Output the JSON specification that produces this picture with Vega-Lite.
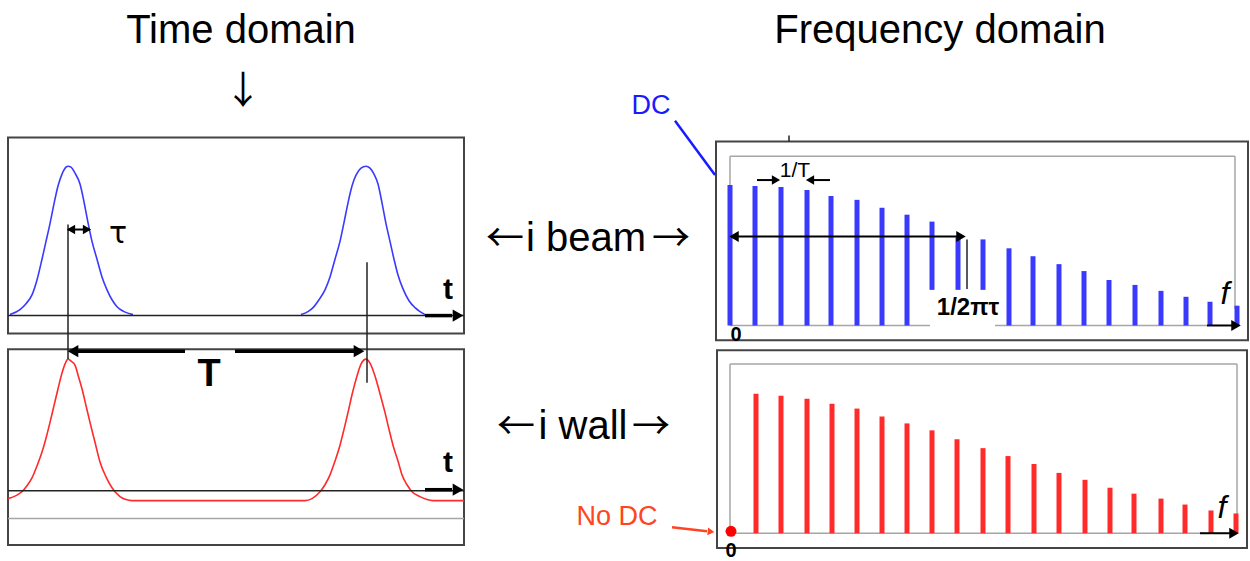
{
  "$schema": "https://vega.github.io/schema/vega-lite/v6.json",
  "width": 1250,
  "height": 561,
  "padding": 0,
  "autosize": {"type": "fit", "contains": "padding"},
  "background": "white",
  "config": {"view": {"stroke": null}, "axis": {"disable": true}},
  "datasets": {
    "boxes": [
      {"x": 8, "y": 139, "x2": 464, "y2": 337},
      {"x": 8, "y": 353, "x2": 464, "y2": 551},
      {"x": 716, "y": 143, "x2": 1248, "y2": 344},
      {"x": 717, "y": 354, "x2": 1247, "y2": 554}
    ],
    "grayLines": [
      {"x": 730, "y": 158, "x2": 1235, "y2": 158},
      {"x": 730, "y": 158, "x2": 730, "y2": 329},
      {"x": 1235, "y": 158, "x2": 1235, "y2": 312},
      {"x": 730, "y": 329, "x2": 930, "y2": 329},
      {"x": 995, "y": 329, "x2": 1207, "y2": 329},
      {"x": 730, "y": 368, "x2": 1237, "y2": 368},
      {"x": 730, "y": 368, "x2": 730, "y2": 539},
      {"x": 1237, "y": 368, "x2": 1237, "y2": 525},
      {"x": 730, "y": 539, "x2": 1205, "y2": 539},
      {"x": 8, "y": 524, "x2": 464, "y2": 524}
    ],
    "thinLines": [
      {"x": 8, "y": 319, "x2": 464, "y2": 319},
      {"x": 8, "y": 496, "x2": 464, "y2": 496},
      {"x": 68, "y": 227, "x2": 68, "y2": 363},
      {"x": 367, "y": 265, "x2": 367, "y2": 387},
      {"x": 967, "y": 242, "x2": 967, "y2": 292},
      {"x": 789, "y": 137, "x2": 789, "y2": 143}
    ],
    "thickArrows": [
      {"x": 425, "y": 319, "x2": 452, "y2": 319},
      {"x": 425, "y": 495, "x2": 452, "y2": 495},
      {"x": 76, "y": 355, "x2": 185, "y2": 355},
      {"x": 235, "y": 355, "x2": 356, "y2": 355}
    ],
    "midArrows": [
      {"x": 68, "y": 232, "x2": 90, "y2": 232},
      {"x": 735, "y": 239, "x2": 960, "y2": 239},
      {"x": 757, "y": 182, "x2": 773, "y2": 182},
      {"x": 813, "y": 182, "x2": 830, "y2": 182},
      {"x": 1207, "y": 329, "x2": 1232, "y2": 329},
      {"x": 1200, "y": 539, "x2": 1230, "y2": 539}
    ],
    "heads": [
      {"x": 458, "y": 319, "dir": "right", "kind": "big"},
      {"x": 458, "y": 495, "dir": "right", "kind": "big"},
      {"x": 73, "y": 355, "dir": "left", "kind": "big"},
      {"x": 359, "y": 355, "dir": "right", "kind": "big"},
      {"x": 734, "y": 239, "dir": "left", "kind": "mid"},
      {"x": 961, "y": 239, "dir": "right", "kind": "mid"},
      {"x": 1236, "y": 329, "dir": "right", "kind": "mid"},
      {"x": 1234, "y": 539, "dir": "right", "kind": "mid"},
      {"x": 71, "y": 232, "dir": "left", "kind": "tiny"},
      {"x": 87, "y": 232, "dir": "right", "kind": "tiny"},
      {"x": 776, "y": 182, "dir": "right", "kind": "tiny"},
      {"x": 810, "y": 182, "dir": "left", "kind": "tiny"}
    ],
    "curves": [
      {"series": "beam1", "signal": "beam", "x": 10, "y": 318},
      {"series": "beam1", "signal": "beam", "x": 20, "y": 313},
      {"series": "beam1", "signal": "beam", "x": 26, "y": 307},
      {"series": "beam1", "signal": "beam", "x": 32, "y": 298},
      {"series": "beam1", "signal": "beam", "x": 37, "y": 283},
      {"series": "beam1", "signal": "beam", "x": 42, "y": 262},
      {"series": "beam1", "signal": "beam", "x": 46, "y": 244},
      {"series": "beam1", "signal": "beam", "x": 50, "y": 226},
      {"series": "beam1", "signal": "beam", "x": 54, "y": 206},
      {"series": "beam1", "signal": "beam", "x": 58, "y": 188},
      {"series": "beam1", "signal": "beam", "x": 62, "y": 176},
      {"series": "beam1", "signal": "beam", "x": 66, "y": 169},
      {"series": "beam1", "signal": "beam", "x": 68, "y": 168},
      {"series": "beam1", "signal": "beam", "x": 71, "y": 169},
      {"series": "beam1", "signal": "beam", "x": 75, "y": 175},
      {"series": "beam1", "signal": "beam", "x": 80, "y": 186},
      {"series": "beam1", "signal": "beam", "x": 84, "y": 204},
      {"series": "beam1", "signal": "beam", "x": 88, "y": 225},
      {"series": "beam1", "signal": "beam", "x": 92, "y": 244},
      {"series": "beam1", "signal": "beam", "x": 97, "y": 262},
      {"series": "beam1", "signal": "beam", "x": 102, "y": 280},
      {"series": "beam1", "signal": "beam", "x": 107, "y": 293},
      {"series": "beam1", "signal": "beam", "x": 112, "y": 303},
      {"series": "beam1", "signal": "beam", "x": 117, "y": 310},
      {"series": "beam1", "signal": "beam", "x": 124, "y": 315},
      {"series": "beam1", "signal": "beam", "x": 133, "y": 318},
      {"series": "beam2", "signal": "beam", "x": 301, "y": 318},
      {"series": "beam2", "signal": "beam", "x": 308, "y": 315},
      {"series": "beam2", "signal": "beam", "x": 313, "y": 311},
      {"series": "beam2", "signal": "beam", "x": 319, "y": 303},
      {"series": "beam2", "signal": "beam", "x": 325, "y": 293},
      {"series": "beam2", "signal": "beam", "x": 330, "y": 280},
      {"series": "beam2", "signal": "beam", "x": 335, "y": 262},
      {"series": "beam2", "signal": "beam", "x": 340, "y": 244},
      {"series": "beam2", "signal": "beam", "x": 344, "y": 225},
      {"series": "beam2", "signal": "beam", "x": 348, "y": 205},
      {"series": "beam2", "signal": "beam", "x": 352, "y": 188},
      {"series": "beam2", "signal": "beam", "x": 356, "y": 177},
      {"series": "beam2", "signal": "beam", "x": 361, "y": 170},
      {"series": "beam2", "signal": "beam", "x": 366, "y": 168},
      {"series": "beam2", "signal": "beam", "x": 370, "y": 170},
      {"series": "beam2", "signal": "beam", "x": 374, "y": 176},
      {"series": "beam2", "signal": "beam", "x": 378, "y": 186},
      {"series": "beam2", "signal": "beam", "x": 382, "y": 205},
      {"series": "beam2", "signal": "beam", "x": 386, "y": 226},
      {"series": "beam2", "signal": "beam", "x": 390, "y": 244},
      {"series": "beam2", "signal": "beam", "x": 394, "y": 262},
      {"series": "beam2", "signal": "beam", "x": 398, "y": 278},
      {"series": "beam2", "signal": "beam", "x": 403, "y": 292},
      {"series": "beam2", "signal": "beam", "x": 409, "y": 304},
      {"series": "beam2", "signal": "beam", "x": 415, "y": 311},
      {"series": "beam2", "signal": "beam", "x": 420, "y": 315},
      {"series": "beam2", "signal": "beam", "x": 425, "y": 318},
      {"series": "wall", "signal": "wall", "x": 8, "y": 504},
      {"series": "wall", "signal": "wall", "x": 16, "y": 501},
      {"series": "wall", "signal": "wall", "x": 22, "y": 497},
      {"series": "wall", "signal": "wall", "x": 27, "y": 491},
      {"series": "wall", "signal": "wall", "x": 32, "y": 483},
      {"series": "wall", "signal": "wall", "x": 37, "y": 471},
      {"series": "wall", "signal": "wall", "x": 42, "y": 457},
      {"series": "wall", "signal": "wall", "x": 46, "y": 443},
      {"series": "wall", "signal": "wall", "x": 50, "y": 427},
      {"series": "wall", "signal": "wall", "x": 54, "y": 410},
      {"series": "wall", "signal": "wall", "x": 58, "y": 393},
      {"series": "wall", "signal": "wall", "x": 62, "y": 377},
      {"series": "wall", "signal": "wall", "x": 65, "y": 368},
      {"series": "wall", "signal": "wall", "x": 68, "y": 363},
      {"series": "wall", "signal": "wall", "x": 71, "y": 365},
      {"series": "wall", "signal": "wall", "x": 75, "y": 369},
      {"series": "wall", "signal": "wall", "x": 78, "y": 379},
      {"series": "wall", "signal": "wall", "x": 82, "y": 393},
      {"series": "wall", "signal": "wall", "x": 86, "y": 410},
      {"series": "wall", "signal": "wall", "x": 90, "y": 427},
      {"series": "wall", "signal": "wall", "x": 95, "y": 447},
      {"series": "wall", "signal": "wall", "x": 100, "y": 467},
      {"series": "wall", "signal": "wall", "x": 106, "y": 482},
      {"series": "wall", "signal": "wall", "x": 112, "y": 493},
      {"series": "wall", "signal": "wall", "x": 120, "y": 502},
      {"series": "wall", "signal": "wall", "x": 126, "y": 505},
      {"series": "wall", "signal": "wall", "x": 132, "y": 506},
      {"series": "wall", "signal": "wall", "x": 305, "y": 506},
      {"series": "wall", "signal": "wall", "x": 312, "y": 504},
      {"series": "wall", "signal": "wall", "x": 320, "y": 497},
      {"series": "wall", "signal": "wall", "x": 325, "y": 490},
      {"series": "wall", "signal": "wall", "x": 330, "y": 480},
      {"series": "wall", "signal": "wall", "x": 335, "y": 466},
      {"series": "wall", "signal": "wall", "x": 340, "y": 450},
      {"series": "wall", "signal": "wall", "x": 344, "y": 434},
      {"series": "wall", "signal": "wall", "x": 348, "y": 417},
      {"series": "wall", "signal": "wall", "x": 352, "y": 399},
      {"series": "wall", "signal": "wall", "x": 357, "y": 380},
      {"series": "wall", "signal": "wall", "x": 361, "y": 368},
      {"series": "wall", "signal": "wall", "x": 366, "y": 363},
      {"series": "wall", "signal": "wall", "x": 370, "y": 367},
      {"series": "wall", "signal": "wall", "x": 375, "y": 380},
      {"series": "wall", "signal": "wall", "x": 380, "y": 398},
      {"series": "wall", "signal": "wall", "x": 385, "y": 417},
      {"series": "wall", "signal": "wall", "x": 389, "y": 434},
      {"series": "wall", "signal": "wall", "x": 393, "y": 450},
      {"series": "wall", "signal": "wall", "x": 398, "y": 466},
      {"series": "wall", "signal": "wall", "x": 402, "y": 480},
      {"series": "wall", "signal": "wall", "x": 407, "y": 490},
      {"series": "wall", "signal": "wall", "x": 412, "y": 497},
      {"series": "wall", "signal": "wall", "x": 420, "y": 502},
      {"series": "wall", "signal": "wall", "x": 427, "y": 505},
      {"series": "wall", "signal": "wall", "x": 433, "y": 506},
      {"series": "wall", "signal": "wall", "x": 464, "y": 506}
    ],
    "spectrum": [
      {"signal": "beam", "x": 730, "top": 187, "bottom": 329},
      {"signal": "beam", "x": 755, "top": 188, "bottom": 329},
      {"signal": "beam", "x": 781, "top": 189, "bottom": 329},
      {"signal": "beam", "x": 807, "top": 192, "bottom": 329},
      {"signal": "beam", "x": 831, "top": 198, "bottom": 329},
      {"signal": "beam", "x": 857, "top": 202, "bottom": 329},
      {"signal": "beam", "x": 882, "top": 210, "bottom": 329},
      {"signal": "beam", "x": 907, "top": 217, "bottom": 329},
      {"signal": "beam", "x": 932, "top": 224, "bottom": 293},
      {"signal": "beam", "x": 958, "top": 240, "bottom": 293},
      {"signal": "beam", "x": 983, "top": 242, "bottom": 293},
      {"signal": "beam", "x": 1009, "top": 251, "bottom": 329},
      {"signal": "beam", "x": 1033, "top": 259, "bottom": 329},
      {"signal": "beam", "x": 1059, "top": 267, "bottom": 329},
      {"signal": "beam", "x": 1084, "top": 274, "bottom": 329},
      {"signal": "beam", "x": 1109, "top": 283, "bottom": 329},
      {"signal": "beam", "x": 1135, "top": 288, "bottom": 329},
      {"signal": "beam", "x": 1161, "top": 294, "bottom": 329},
      {"signal": "beam", "x": 1186, "top": 300, "bottom": 329},
      {"signal": "beam", "x": 1210, "top": 305, "bottom": 329},
      {"signal": "beam", "x": 1237, "top": 309, "bottom": 329},
      {"signal": "wall", "x": 756, "top": 398, "bottom": 539},
      {"signal": "wall", "x": 781, "top": 400, "bottom": 539},
      {"signal": "wall", "x": 807, "top": 403, "bottom": 539},
      {"signal": "wall", "x": 832, "top": 408, "bottom": 539},
      {"signal": "wall", "x": 857, "top": 413, "bottom": 539},
      {"signal": "wall", "x": 882, "top": 421, "bottom": 539},
      {"signal": "wall", "x": 907, "top": 428, "bottom": 539},
      {"signal": "wall", "x": 932, "top": 435, "bottom": 539},
      {"signal": "wall", "x": 957, "top": 444, "bottom": 539},
      {"signal": "wall", "x": 983, "top": 453, "bottom": 539},
      {"signal": "wall", "x": 1008, "top": 461, "bottom": 539},
      {"signal": "wall", "x": 1034, "top": 469, "bottom": 539},
      {"signal": "wall", "x": 1059, "top": 478, "bottom": 539},
      {"signal": "wall", "x": 1085, "top": 485, "bottom": 539},
      {"signal": "wall", "x": 1110, "top": 493, "bottom": 539},
      {"signal": "wall", "x": 1134, "top": 499, "bottom": 539},
      {"signal": "wall", "x": 1161, "top": 504, "bottom": 539},
      {"signal": "wall", "x": 1185, "top": 510, "bottom": 539},
      {"signal": "wall", "x": 1211, "top": 516, "bottom": 539},
      {"signal": "wall", "x": 1236, "top": 519, "bottom": 539}
    ]
  },
  "layer": [
    {
      "data": {"name": "boxes"},
      "mark": {"type": "rect", "fillOpacity": 0, "stroke": "#444444", "strokeWidth": 2},
      "encoding": {
        "x": {"field": "x", "type": "quantitative", "scale": {"domain": [0, 1250], "nice": false, "zero": false}},
        "x2": {"field": "x2"},
        "y": {"field": "y", "type": "quantitative", "scale": {"domain": [0, 561], "nice": false, "zero": false, "reverse": true}},
        "y2": {"field": "y2"}
      }
    },
    {
      "data": {"name": "grayLines"},
      "mark": {"type": "rule", "stroke": "#a6a6a6", "strokeWidth": 1.5},
      "encoding": {
        "x": {"field": "x", "type": "quantitative"},
        "x2": {"field": "x2"},
        "y": {"field": "y", "type": "quantitative"},
        "y2": {"field": "y2"}
      }
    },
    {
      "data": {"name": "curves"},
      "mark": {"type": "line", "strokeWidth": 1.6, "interpolate": "monotone"},
      "encoding": {
        "x": {"field": "x", "type": "quantitative"},
        "y": {"field": "y", "type": "quantitative"},
        "detail": {"field": "series"},
        "color": {"field": "signal", "type": "nominal", "scale": {"domain": ["beam", "wall"], "range": ["#3a3aff", "#ff2a2a"]}, "legend": null}
      }
    },
    {
      "data": {"name": "thinLines"},
      "mark": {"type": "rule", "stroke": "#222222", "strokeWidth": 1.5},
      "encoding": {
        "x": {"field": "x", "type": "quantitative"},
        "x2": {"field": "x2"},
        "y": {"field": "y", "type": "quantitative"},
        "y2": {"field": "y2"}
      }
    },
    {
      "data": {"name": "spectrum"},
      "mark": {"type": "rule", "strokeWidth": 5, "strokeCap": "butt"},
      "encoding": {
        "x": {"field": "x", "type": "quantitative"},
        "y": {"field": "top", "type": "quantitative"},
        "y2": {"field": "bottom"},
        "color": {"field": "signal", "type": "nominal", "scale": {"domain": ["beam", "wall"], "range": ["#0000ff", "#ff0000"]}, "legend": null}
      }
    },
    {
      "data": {"name": "thickArrows"},
      "mark": {"type": "rule", "stroke": "#000000", "strokeWidth": 3.5},
      "encoding": {
        "x": {"field": "x", "type": "quantitative"},
        "x2": {"field": "x2"},
        "y": {"field": "y", "type": "quantitative"},
        "y2": {"field": "y2"}
      }
    },
    {
      "data": {"name": "midArrows"},
      "mark": {"type": "rule", "stroke": "#000000", "strokeWidth": 2},
      "encoding": {
        "x": {"field": "x", "type": "quantitative"},
        "x2": {"field": "x2"},
        "y": {"field": "y", "type": "quantitative"},
        "y2": {"field": "y2"}
      }
    },
    {
      "data": {"name": "heads"},
      "mark": {"type": "point", "filled": true, "opacity": 1, "color": "#000000", "strokeWidth": 0},
      "encoding": {
        "x": {"field": "x", "type": "quantitative"},
        "y": {"field": "y", "type": "quantitative"},
        "shape": {"field": "dir", "type": "nominal", "scale": {"domain": ["right", "left"], "range": ["triangle-right", "triangle-left"]}, "legend": null},
        "size": {"field": "kind", "type": "nominal", "scale": {"domain": ["big", "mid", "tiny"], "range": [150, 90, 40]}, "legend": null}
      }
    },
    {
      "data": {"values": [{"x": 675, "y": 122, "x2": 715, "y2": 177}]},
      "mark": {"type": "rule", "stroke": "#1a1aff", "strokeWidth": 2.5},
      "encoding": {
        "x": {"field": "x", "type": "quantitative"},
        "x2": {"field": "x2"},
        "y": {"field": "y", "type": "quantitative"},
        "y2": {"field": "y2"}
      }
    },
    {
      "data": {"values": [{"x": 672, "y": 533, "x2": 707, "y2": 537}]},
      "mark": {"type": "rule", "stroke": "#ff4422", "strokeWidth": 2.5},
      "encoding": {
        "x": {"field": "x", "type": "quantitative"},
        "x2": {"field": "x2"},
        "y": {"field": "y", "type": "quantitative"},
        "y2": {"field": "y2"}
      }
    },
    {
      "data": {"values": [{"x": 711, "y": 537.5}]},
      "mark": {"type": "point", "shape": "triangle-right", "filled": true, "opacity": 1, "color": "#ff4422", "size": 60, "angle": 6},
      "encoding": {
        "x": {"field": "x", "type": "quantitative"},
        "y": {"field": "y", "type": "quantitative"}
      }
    },
    {
      "data": {"values": [{"x": 731, "y": 537}]},
      "mark": {"type": "point", "shape": "circle", "filled": true, "opacity": 1, "color": "#ff0000", "size": 120},
      "encoding": {
        "x": {"field": "x", "type": "quantitative"},
        "y": {"field": "y", "type": "quantitative"}
      }
    },
    {
      "data": {"values": [
        {"label": "Time domain", "x": 241, "y": 31},
        {"label": "Frequency domain", "x": 940, "y": 31},
        {"label": "i beam", "x": 586, "y": 242},
        {"label": "i wall", "x": 583, "y": 432}
      ]},
      "mark": {"type": "text", "font": "Liberation Sans", "fontSize": 40, "color": "#000000", "align": "center", "baseline": "middle"},
      "encoding": {
        "x": {"field": "x", "type": "quantitative"},
        "y": {"field": "y", "type": "quantitative"},
        "text": {"field": "label"}
      }
    },
    {
      "data": {"values": [
        {"label": "↓", "x": 243, "y": 93},
        {"label": "←", "x": 505, "y": 243},
        {"label": "→", "x": 671, "y": 243},
        {"label": "←", "x": 516, "y": 433},
        {"label": "→", "x": 651, "y": 433}
      ]},
      "mark": {"type": "text", "font": "Noto Sans CJK JP", "fontSize": 38, "color": "#000000", "align": "center", "baseline": "middle"},
      "encoding": {
        "x": {"field": "x", "type": "quantitative"},
        "y": {"field": "y", "type": "quantitative"},
        "text": {"field": "label"}
      }
    },
    {
      "data": {"values": [{"label": "DC", "x": 651, "y": 107}]},
      "mark": {"type": "text", "font": "Liberation Sans", "fontSize": 27, "color": "#1a1aff", "align": "center", "baseline": "middle"},
      "encoding": {
        "x": {"field": "x", "type": "quantitative"},
        "y": {"field": "y", "type": "quantitative"},
        "text": {"field": "label"}
      }
    },
    {
      "data": {"values": [{"label": "No DC", "x": 617, "y": 523}]},
      "mark": {"type": "text", "font": "Liberation Sans", "fontSize": 27, "color": "#ff4422", "align": "center", "baseline": "middle"},
      "encoding": {
        "x": {"field": "x", "type": "quantitative"},
        "y": {"field": "y", "type": "quantitative"},
        "text": {"field": "label"}
      }
    },
    {
      "data": {"values": [{"label": "τ", "x": 118, "y": 237}]},
      "mark": {"type": "text", "font": "DejaVu Sans", "fontSize": 30, "color": "#000000", "align": "center", "baseline": "middle"},
      "encoding": {
        "x": {"field": "x", "type": "quantitative"},
        "y": {"field": "y", "type": "quantitative"},
        "text": {"field": "label"}
      }
    },
    {
      "data": {"values": [
        {"label": "t", "x": 448, "y": 293},
        {"label": "t", "x": 448, "y": 468}
      ]},
      "mark": {"type": "text", "font": "Liberation Sans", "fontSize": 30, "fontWeight": "bold", "color": "#000000", "align": "center", "baseline": "middle"},
      "encoding": {
        "x": {"field": "x", "type": "quantitative"},
        "y": {"field": "y", "type": "quantitative"},
        "text": {"field": "label"}
      }
    },
    {
      "data": {"values": [{"label": "T", "x": 209, "y": 379}]},
      "mark": {"type": "text", "font": "Liberation Sans", "fontSize": 38, "fontWeight": "bold", "color": "#000000", "align": "center", "baseline": "middle"},
      "encoding": {
        "x": {"field": "x", "type": "quantitative"},
        "y": {"field": "y", "type": "quantitative"},
        "text": {"field": "label"}
      }
    },
    {
      "data": {"values": [{"label": "1/T", "x": 795, "y": 173}]},
      "mark": {"type": "text", "font": "Liberation Sans", "fontSize": 21, "color": "#000000", "align": "center", "baseline": "middle"},
      "encoding": {
        "x": {"field": "x", "type": "quantitative"},
        "y": {"field": "y", "type": "quantitative"},
        "text": {"field": "label"}
      }
    },
    {
      "data": {"values": [{"label": "1/2πτ", "x": 968, "y": 311}]},
      "mark": {"type": "text", "font": "Liberation Sans", "fontSize": 24, "fontWeight": "bold", "color": "#000000", "align": "center", "baseline": "middle"},
      "encoding": {
        "x": {"field": "x", "type": "quantitative"},
        "y": {"field": "y", "type": "quantitative"},
        "text": {"field": "label"}
      }
    },
    {
      "data": {"values": [
        {"label": "0", "x": 736, "y": 339},
        {"label": "0", "x": 731, "y": 557}
      ]},
      "mark": {"type": "text", "font": "Liberation Sans", "fontSize": 20, "fontWeight": "bold", "color": "#000000", "align": "center", "baseline": "middle"},
      "encoding": {
        "x": {"field": "x", "type": "quantitative"},
        "y": {"field": "y", "type": "quantitative"},
        "text": {"field": "label"}
      }
    },
    {
      "data": {"values": [
        {"label": "f", "x": 1225, "y": 297},
        {"label": "f", "x": 1222, "y": 513}
      ]},
      "mark": {"type": "text", "font": "Liberation Sans", "fontSize": 32, "fontStyle": "italic", "color": "#000000", "align": "center", "baseline": "middle"},
      "encoding": {
        "x": {"field": "x", "type": "quantitative"},
        "y": {"field": "y", "type": "quantitative"},
        "text": {"field": "label"}
      }
    }
  ]
}
